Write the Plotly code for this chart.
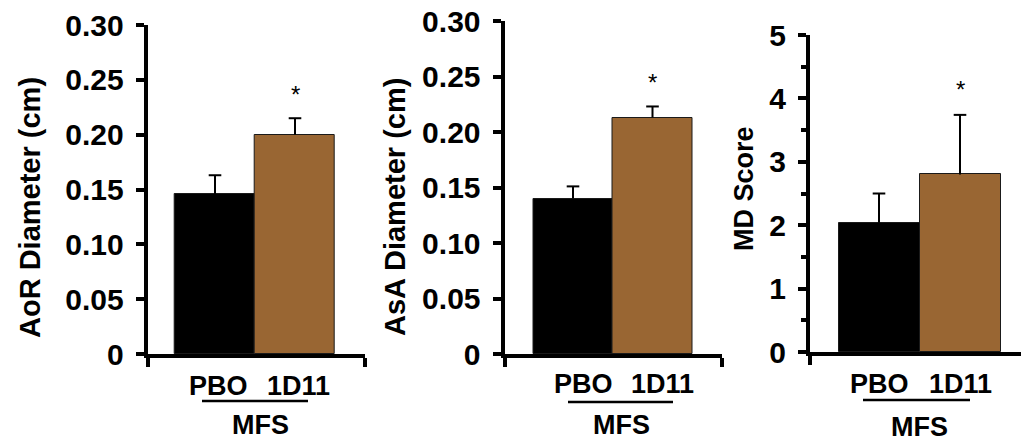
import plotly.graph_objects as go

# page body has an 8px margin; the figure is sized so that it lands at the
# reference's pixel positions inside the 1029x443 window
OFF = 8
W, H = 1029 - OFF, 443 - OFF

# ---- data ----
groups = ["PBO", "1D11"]
aor_mean = [0.146, 0.200]
aor_err = [0.017, 0.015]
asa_mean = [0.140, 0.213]
asa_err = [0.011, 0.010]
md_mean = [2.04, 2.80]
md_err = [0.46, 0.94]
star_y = [0.239, 0.247, 4.18]
aor_ticks = [0, 0.05, 0.10, 0.15, 0.20, 0.25, 0.30]
aor_ticktext = ["0", "0.05", "0.10", "0.15", "0.20", "0.25", "0.30"]
md_ticks = [0, 1, 2, 3, 4, 5]
y_titles = ["AoR Diameter (cm)", "AsA Diameter (cm)", "MD Score"]
group_label = "MFS"

BLACK = "#000000"
BROWN = "#996633"
FONT = "Liberation Sans, Arial, sans-serif"


def px(p):
    return (p - OFF) / W


def py(p):
    return 1 - (p - OFF) / H


# panel geometry (pixels in the reference window)
panels = [
    dict(x0=147.7, x1=365, ybot=354, ytop=25, c0=215, c1=295, yr=[0, 0.30],
         title_xy=(30, 208), title_size=29, lab_y=385.5, lab_shift=3,
         mfs=(260, 425), ul=(202, 308, 401)),
    dict(x0=504.5, x1=722, ybot=354, ytop=21, c0=573, c1=652.5, yr=[0, 0.30],
         title_xy=(395, 207), title_size=29, lab_y=383.5, lab_shift=10,
         mfs=(621, 425), ul=(568, 673, 402)),
    dict(x0=810, x1=1029, ybot=352, ytop=35, c0=879, c1=960, yr=[0, 5],
         title_xy=(744, 189), title_size=27, lab_y=383.5, lab_shift=0,
         mfs=(919, 427), ul=(863, 970, 400)),
]
means = [aor_mean, asa_mean, md_mean]
errs = [aor_err, asa_err, md_err]

fig = go.Figure()
annotations = []
shapes = []
layout = {}

for i, p in enumerate(panels):
    n = "" if i == 0 else str(i + 1)
    xa, ya = "x" + n, "y" + n
    unit = p["c1"] - p["c0"]
    xr = [(p["x0"] - p["c0"]) / unit, (p["x1"] - p["c0"]) / unit]
    xvals = [0, 1]
    fig.add_trace(go.Bar(
        x=xvals, y=means[i], xaxis=xa, yaxis=ya,
        marker=dict(color=[BLACK, BROWN], line=dict(color="#1a1a1a", width=1)),
        error_y=dict(type="data", symmetric=False, array=errs[i],
                     arrayminus=[0, 0], color="black", thickness=2, width=0),
        showlegend=False, hoverinfo="skip",
    ))
    # error-bar caps
    fig.add_trace(go.Scatter(
        x=xvals, y=[m + e for m, e in zip(means[i], errs[i])], xaxis=xa, yaxis=ya,
        mode="markers", marker=dict(symbol="line-ew", size=9,
                                    line=dict(color="black", width=2)),
        showlegend=False, hoverinfo="skip", cliponaxis=False,
    ))
    layout["xaxis" + n] = dict(
        domain=[max(px(p["x0"]), 0), min(px(p["x1"]), 1)], anchor=ya, range=xr,
        automargin=False,
        showline=True, linecolor="black", linewidth=4, showgrid=False,
        zeroline=False, ticks="outside", ticklen=9, tickwidth=4, tickcolor="black",
        tickvals=[xr[0] + 1e-4, xr[1] - 1e-4], showticklabels=False, fixedrange=True,
    )
    ydict = dict(
        domain=[py(p["ybot"]), py(p["ytop"])], anchor=xa, range=p["yr"], automargin=False,
        showline=True, linecolor="black", linewidth=4, showgrid=False,
        zeroline=False, ticks="outside", ticklen=8, tickwidth=4, tickcolor="black",
        tickfont=dict(family=FONT, size=30, color="black", weight="bold"),
        ticklabelstandoff=6, ticklabeloverflow="allow", fixedrange=True,
    )
    if i < 2:
        ydict.update(tickvals=aor_ticks, ticktext=aor_ticktext)
    else:
        ydict.update(tickvals=md_ticks,
                     minor=dict(dtick=0.5, ticks="outside", ticklen=5, tickwidth=4,
                                tickcolor="black", showgrid=False))
    layout["yaxis" + n] = ydict

    # y title
    tx, ty = p["title_xy"]
    annotations.append(dict(
        x=px(tx), y=py(ty), xref="paper", yref="paper", text=y_titles[i],
        textangle=-90, showarrow=False, xanchor="center", yanchor="middle",
        font=dict(family=FONT, size=p["title_size"], color="black", weight="bold")))
    # group labels
    for j, g in enumerate(groups):
        annotations.append(dict(
            x=xvals[j], y=py(p["lab_y"]), xref=xa, yref="paper", text=g,
            xshift=p["lab_shift"], showarrow=False, xanchor="center", yanchor="middle",
            font=dict(family=FONT, size=27, color="black", weight="bold")))
    # MFS label and underline
    mx, my = p["mfs"]
    annotations.append(dict(
        x=px(mx), y=py(my), xref="paper", yref="paper", text=group_label,
        showarrow=False, xanchor="center", yanchor="middle",
        font=dict(family=FONT, size=27, color="black", weight="bold")))
    u0, u1, uy = p["ul"]
    shapes.append(dict(type="line", xref="paper", yref="paper",
                       x0=px(u0), x1=px(u1), y0=py(uy), y1=py(uy),
                       line=dict(color="black", width=2.5)))
    # significance star
    annotations.append(dict(
        x=1, y=star_y[i], xref=xa, yref=ya, text="*", yshift=-3,
        showarrow=False, xanchor="center", yanchor="middle",
        font=dict(family=FONT, size=24, color="black")))

fig.update_layout(
    template="none",
    width=W, height=H, margin=dict(l=0, r=0, t=0, b=0, pad=0, autoexpand=False),
    paper_bgcolor="white", plot_bgcolor="white",
    bargap=0, annotations=annotations, shapes=shapes, **layout,
)

fig.write_html("out.html", config=dict(displayModeBar=False))
